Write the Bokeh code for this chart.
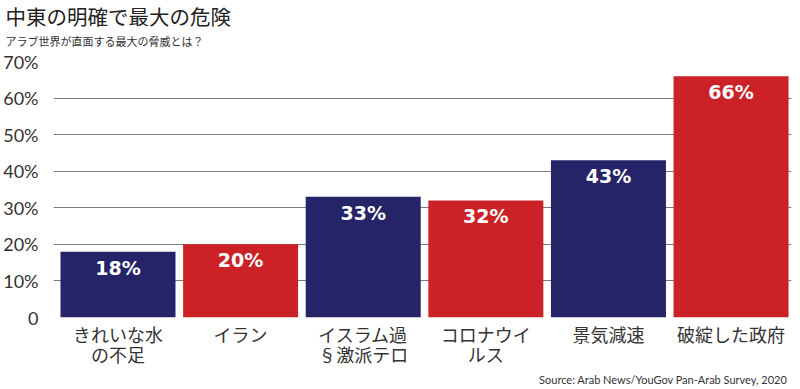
from bokeh.plotting import figure
from bokeh.models import Range1d, FixedTicker, Title, ColumnDataSource
from bokeh.embed import file_html
from bokeh.resources import INLINE
from bokeh.core.properties import value

# ---- data ----
categories = ["きれいな水\nの不足", "イラン", "イスラム過\n§激派テロ", "コロナウイ\nルス", "景気減速", "破綻した政府"]
values = [18, 20, 33, 32, 43, 66]
value_labels = ["18%", "20%", "33%", "32%", "43%", "66%"]
y_ticks = [0, 10, 20, 30, 40, 50, 60, 70]
y_tick_labels = ["0", "10%", "20%", "30%", "40%", "50%", "60%", "70%"]
title_text = "中東の明確で最大の危険"
subtitle_text = "アラブ世界が直面する最大の脅威とは？"
source_text = "Source: Arab News/YouGov Pan-Arab Survey, 2020"

NAVY = "#262468"
RED = "#cd2128"
colors = [NAVY if i % 2 == 0 else RED for i in range(len(values))]
xs = list(range(len(categories)))

src = ColumnDataSource(dict(x=xs, top=values, color=colors, label=value_labels))

W, H = 800, 389
p = figure(width=W, height=H, output_backend="svg", toolbar_location=None,
           x_range=Range1d(-0.526, 5.493), y_range=Range1d(0, 70),
           min_border_left=53, min_border_right=9, min_border_top=61, min_border_bottom=72)
p.outline_line_color = None
p.background_fill_color = "white"
p.border_fill_color = "white"

p.vbar(x="x", top="top", width=0.938, fill_color="color", line_color=None, source=src)
p.text(x="x", y="top", text="label", source=src, text_color="white",
       text_font=value("DejaVu Sans"), text_font_style="bold", text_font_size="19px",
       text_align="center", text_baseline="middle", y_offset=16)

# grid
p.xgrid.grid_line_color = None
p.ygrid.ticker = FixedTicker(ticks=y_ticks)
p.ygrid.grid_line_color = "#7a7a7a"
p.ygrid.grid_line_width = 1

# y axis
ya = p.yaxis[0]
ya.ticker = FixedTicker(ticks=y_ticks)
ya.major_label_overrides = {t: l for t, l in zip(y_ticks, y_tick_labels)}
ya.axis_line_color = None
ya.major_tick_line_color = None
ya.minor_tick_line_color = None
ya.major_label_standoff = 9
ya.major_label_text_font = "Lato"
ya.major_label_text_font_size = "18px"
ya.major_label_text_color = "#333333"

# x axis
xa = p.xaxis[0]
xa.ticker = FixedTicker(ticks=xs)
xa.major_label_overrides = {i: c for i, c in zip(xs, categories)}
xa.axis_line_color = None
xa.major_tick_line_color = None
xa.minor_tick_line_color = None
xa.major_label_standoff = -3
xa.major_label_text_font = "Noto Sans CJK JP"
xa.major_label_text_font_size = "18px"
xa.major_label_text_line_height = 0.78
xa.major_label_text_color = "#333333"

# titles: p.title is outermost; added Titles stack outward from the frame
p.title.text = title_text
p.title.text_font = "Noto Sans CJK JP"
p.title.text_font_size = "20.5px"
p.title.text_font_style = "normal"
p.title.text_color = "#222222"
p.title.align = "left"
p.title.offset = -48
p.title.standoff = -8

# small spacer between the subtitle and the plot frame
p.add_layout(Title(text=" ", text_font="Lato", text_font_size="1px", align="left",
                   standoff=6), "above")
p.add_layout(Title(text=subtitle_text, text_font="Noto Sans CJK JP", text_font_size="11px",
                   text_font_style="normal", text_color="#333333", align="left",
                   offset=-48, standoff=8), "above")

p.add_layout(Title(text=source_text, text_font="Lato", text_font_size="11px",
                   text_font_style="normal", text_color="#333333", align="right",
                   offset=4, standoff=2), "below")

open("out.html", "w").write(file_html(p, INLINE))
